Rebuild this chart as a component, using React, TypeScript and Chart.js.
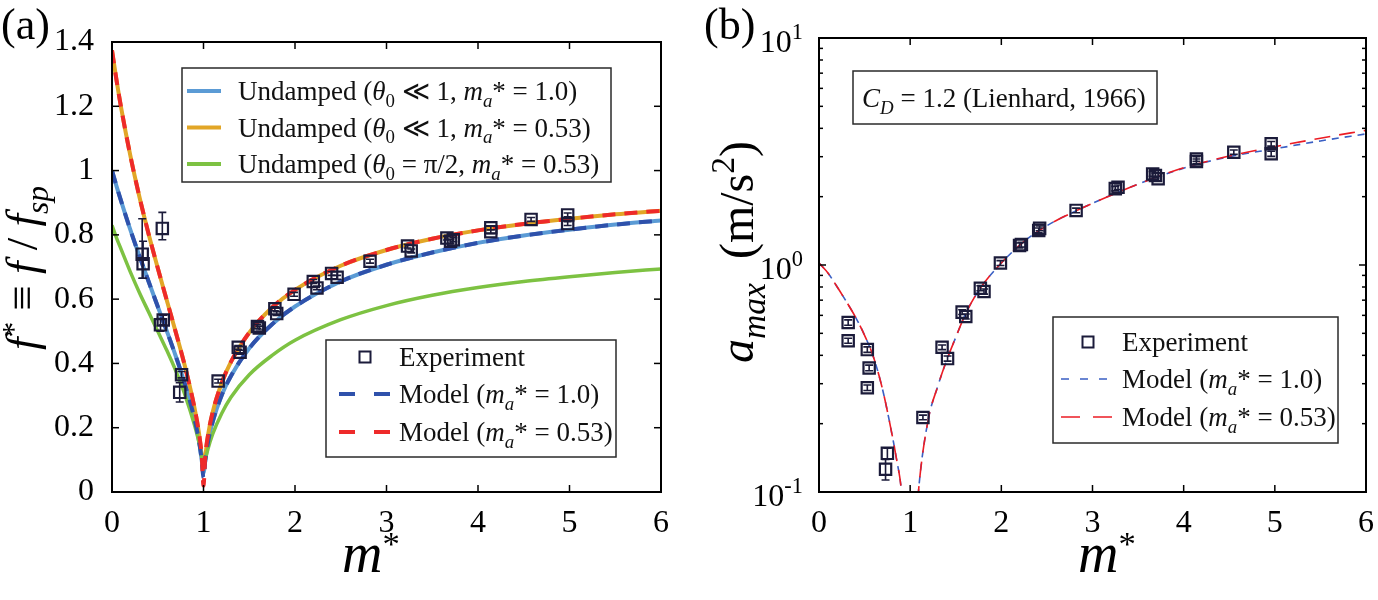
import React, { useEffect, useRef } from 'react';
import { Chart, registerables } from 'chart.js';

Chart.register(...registerables);

const SERIF = '"Liberation Serif", "DejaVu Serif", "Times New Roman", serif';
const INK = '#1b1b3a';
const CW = 689;
const CH = 600;

// ---------- panel (a): frequency ratio f* against mass ratio m* ----------
const CURVE_X = [0, 0.05, 0.1, 0.2, 0.3, 0.4, 0.5, 0.6, 0.7, 0.8, 0.9, 0.95, 0.98, 1.0, 1.02, 1.05, 1.1, 1.2, 1.3, 1.5, 1.75, 2, 2.5, 3, 3.5, 4, 4.5, 5, 5.5, 6];
const UNDAMPED_MA10 = [1.0, 0.951, 0.905, 0.816, 0.734, 0.655, 0.577, 0.5, 0.42, 0.333, 0.229, 0.16, 0.1, 0.06, 0.0995, 0.156, 0.218, 0.302, 0.361, 0.447, 0.522, 0.577, 0.655, 0.707, 0.745, 0.775, 0.798, 0.816, 0.832, 0.845];
const UNDAMPED_MA053 = [1.374, 1.28, 1.195, 1.047, 0.918, 0.803, 0.697, 0.595, 0.494, 0.388, 0.264, 0.184, 0.115, 0.09, 0.114, 0.178, 0.248, 0.34, 0.405, 0.496, 0.574, 0.629, 0.704, 0.753, 0.788, 0.814, 0.834, 0.85, 0.864, 0.875];
const UNDAMPED_LARGE = [0.83, 0.79, 0.755, 0.685, 0.62, 0.56, 0.5, 0.44, 0.375, 0.3, 0.21, 0.155, 0.11, 0.07, 0.1, 0.135, 0.18, 0.245, 0.295, 0.365, 0.425, 0.472, 0.536, 0.58, 0.612, 0.636, 0.655, 0.67, 0.683, 0.694];
const MODEL_MA10 = [1.0, 0.951, 0.905, 0.816, 0.734, 0.655, 0.577, 0.5, 0.42, 0.333, 0.229, 0.16, 0.1, 0.045, 0.0995, 0.156, 0.218, 0.302, 0.361, 0.447, 0.522, 0.577, 0.655, 0.707, 0.745, 0.775, 0.798, 0.816, 0.832, 0.845];
const MODEL_MA053 = [1.374, 1.28, 1.195, 1.047, 0.918, 0.803, 0.697, 0.595, 0.494, 0.388, 0.264, 0.184, 0.115, 0.02, 0.114, 0.178, 0.248, 0.34, 0.405, 0.496, 0.574, 0.629, 0.704, 0.753, 0.788, 0.814, 0.834, 0.85, 0.864, 0.875];

const EXP_A_X = [0.33, 0.34, 0.55, 0.53, 0.56, 0.76, 0.74, 1.16, 1.38, 1.4, 1.59, 1.61, 1.78, 1.8, 1.99, 2.2, 2.24, 2.4, 2.46, 2.82, 3.23, 3.27, 3.66, 3.7, 3.73, 4.14, 4.14, 4.58, 4.98, 4.98];
const EXP_A_Y = [0.74, 0.71, 0.82, 0.52, 0.535, 0.365, 0.31, 0.345, 0.45, 0.435, 0.515, 0.51, 0.57, 0.555, 0.615, 0.655, 0.635, 0.68, 0.668, 0.718, 0.765, 0.75, 0.79, 0.78, 0.785, 0.822, 0.81, 0.848, 0.862, 0.835];
const EXP_A_ERR_LO = [0.075, 0.045, 0.035, 0.02, 0.015, 0.01, 0.03, 0.006, 0.006, 0.006, 0.006, 0.006, 0.006, 0.006, 0.006, 0.006, 0.006, 0.006, 0.006, 0.006, 0.006, 0.006, 0.006, 0.006, 0.006, 0.006, 0.006, 0.006, 0.006, 0.006];
const EXP_A_ERR_HI = [0.11, 0.07, 0.05, 0.02, 0.015, 0.01, 0.03, 0.006, 0.006, 0.006, 0.006, 0.006, 0.006, 0.006, 0.006, 0.006, 0.006, 0.006, 0.006, 0.006, 0.006, 0.006, 0.006, 0.006, 0.006, 0.006, 0.006, 0.006, 0.006, 0.006];

const X_TICKS = [0, 1, 2, 3, 4, 5, 6];
const Y_TICKS_A = [0, 0.2, 0.4, 0.6, 0.8, 1, 1.2, 1.4];

// ---------- panel (b): peak acceleration against mass ratio ----------
const MODEL_B_X = [0, 0.1, 0.2, 0.3, 0.4, 0.5, 0.6, 0.7, 0.8, 0.85, 0.9, 0.95, 1.0, 1.05, 1.1, 1.2, 1.3, 1.4, 1.5, 1.6, 1.75, 2, 2.25, 2.5, 2.75, 3, 3.5, 4, 4.5, 5, 5.5, 6];
const MODEL_B_MA10 = [1.02, 0.92, 0.8, 0.69, 0.59, 0.49, 0.39, 0.28, 0.18, 0.14, 0.105, 0.06, 0.03, 0.06, 0.11, 0.21, 0.29, 0.38, 0.48, 0.6, 0.77, 1.02, 1.27, 1.49, 1.68, 1.87, 2.27, 2.67, 3.0, 3.25, 3.52, 3.78];
const MODEL_B_MA053 = [1.02, 0.92, 0.8, 0.69, 0.59, 0.49, 0.39, 0.28, 0.18, 0.14, 0.105, 0.06, 0.03, 0.06, 0.11, 0.21, 0.29, 0.38, 0.48, 0.6, 0.77, 1.02, 1.27, 1.49, 1.68, 1.87, 2.27, 2.68, 3.02, 3.32, 3.62, 3.92];

const EXP_B_X = [0.32, 0.32, 0.53, 0.55, 0.53, 0.75, 0.73, 1.14, 1.35, 1.41, 1.57, 1.61, 1.77, 1.81, 1.99, 2.2, 2.22, 2.41, 2.42, 2.82, 3.25, 3.28, 3.66, 3.69, 3.72, 4.14, 4.14, 4.55, 4.96, 4.96];
const EXP_B_Y = [0.558, 0.464, 0.424, 0.352, 0.288, 0.148, 0.126, 0.213, 0.434, 0.387, 0.62, 0.593, 0.79, 0.764, 1.02, 1.22, 1.23, 1.42, 1.45, 1.74, 2.17, 2.2, 2.52, 2.48, 2.4, 2.93, 2.86, 3.14, 3.42, 3.09];
const EXP_B_ERR = [0.015, 0.012, 0.012, 0.01, 0.008, 0.008, 0.013, 0.005, 0.01, 0.01, 0.015, 0.015, 0.02, 0.02, 0.025, 0.03, 0.03, 0.035, 0.035, 0.04, 0.05, 0.05, 0.06, 0.06, 0.06, 0.07, 0.07, 0.07, 0.08, 0.08];

const Y_MAJOR_B = [0.1, 1, 10];
const Y_EXP_B = ['-1', '0', '1'];
const Y_MINOR_B = [0.2, 0.3, 0.4, 0.5, 0.6, 0.7, 0.8, 0.9, 2, 3, 4, 5, 6, 7, 8, 9];

// colours
const C_BLUE = '#5b9bd5';
const C_ORANGE = '#e2a626';
const C_GREEN = '#7dc242';
const C_MODEL_BLUE = '#2f51ab';
const C_MODEL_RED = '#ee2a2a';
const C_B_BLUE = '#3a5fc4';
const C_B_RED = '#ec1c24';

// ---------- rich text helper ----------
type Seg = { t: string; it?: boolean; sub?: boolean; sup?: boolean; k?: number; dy?: number };

const segSize = (s: Seg, size: number) => size * (s.k ?? (s.sub || s.sup ? 0.7 : 1));
const fontFor = (s: Seg, size: number) => `${s.it ? 'italic ' : ''}${segSize(s, size).toFixed(1)}px ${SERIF}`;

function richWidth(ctx: CanvasRenderingContext2D, segs: Seg[], size: number) {
  let w = 0;
  for (const s of segs) {
    ctx.font = fontFor(s, size);
    w += ctx.measureText(s.t).width;
  }
  return w;
}

function drawRich(ctx: CanvasRenderingContext2D, segs: Seg[], x: number, y: number, size: number, align: 'left' | 'center' | 'right' = 'left') {
  const w = richWidth(ctx, segs, size);
  let cx = align === 'center' ? x - w / 2 : align === 'right' ? x - w : x;
  ctx.textAlign = 'left';
  ctx.textBaseline = 'alphabetic';
  for (const s of segs) {
    ctx.font = fontFor(s, size);
    const dy = s.dy !== undefined ? s.dy * size : s.sub ? size * 0.25 : s.sup ? -size * 0.4 : 0;
    ctx.fillText(s.t, cx, y + dy);
    cx += ctx.measureText(s.t).width;
  }
}

const maSegs = (val: string): Seg[] => [{ t: 'm', it: true }, { t: 'a', it: true, sub: true }, { t: `* = ${val})` }];

const LEGEND_A_TOP: { color: string; segs: Seg[] }[] = [
  { color: C_BLUE, segs: [{ t: 'Undamped (' }, { t: 'θ', it: true }, { t: '0', sub: true }, { t: ' ≪ 1, ' }, ...maSegs('1.0')] },
  { color: C_ORANGE, segs: [{ t: 'Undamped (' }, { t: 'θ', it: true }, { t: '0', sub: true }, { t: ' ≪ 1, ' }, ...maSegs('0.53')] },
  { color: C_GREEN, segs: [{ t: 'Undamped (' }, { t: 'θ', it: true }, { t: '0', sub: true }, { t: ' = π/2, ' }, ...maSegs('0.53')] },
];
const MODEL_10: Seg[] = [{ t: 'Model (' }, ...maSegs('1.0')];
const MODEL_053: Seg[] = [{ t: 'Model (' }, ...maSegs('0.53')];
const Y_LABEL_A: Seg[] = [{ t: 'f', it: true }, { t: '*', k: 0.7, dy: -0.3 }, { t: ' ≡ ' }, { t: 'f', it: true }, { t: ' / ' }, { t: 'f', it: true }, { t: 'sp', it: true, sub: true }];
const Y_LABEL_B: Seg[] = [{ t: 'a', it: true }, { t: 'max', it: true, sub: true }, { t: '  (m/s' }, { t: '2', sup: true }, { t: ')' }];
const X_LABEL: Seg[] = [{ t: 'm', it: true }, { t: '*', k: 0.62, dy: -0.3 }];
const NOTE_B: Seg[] = [{ t: 'C', it: true }, { t: 'D', it: true, sub: true }, { t: ' = 1.2 (Lienhard, 1966)' }];

// ---------- drawing helpers ----------
function seg(ctx: CanvasRenderingContext2D, x1: number, y1: number, x2: number, y2: number) {
  ctx.beginPath();
  ctx.moveTo(x1, y1);
  ctx.lineTo(x2, y2);
  ctx.stroke();
}

function box(ctx: CanvasRenderingContext2D, x: number, y: number, w: number, h: number) {
  ctx.fillStyle = '#ffffff';
  ctx.fillRect(x, y, w, h);
  ctx.strokeStyle = '#2a2a2a';
  ctx.lineWidth = 1.5;
  ctx.strokeRect(x, y, w, h);
}

function sampleLine(ctx: CanvasRenderingContext2D, x1: number, x2: number, y: number, color: string, width: number, dash: number[]) {
  ctx.save();
  ctx.strokeStyle = color;
  ctx.lineWidth = width;
  ctx.setLineDash(dash);
  seg(ctx, x1, y, x2, y);
  ctx.restore();
}

function sampleSquare(ctx: CanvasRenderingContext2D, cx: number, cy: number) {
  ctx.save();
  ctx.strokeStyle = INK;
  ctx.lineWidth = 2;
  ctx.strokeRect(cx - 5.5, cy - 5.5, 11, 11);
  ctx.restore();
}

function frame(chart: any) {
  const { ctx, chartArea: a } = chart;
  ctx.strokeStyle = '#000';
  ctx.lineWidth = 2;
  ctx.setLineDash([]);
  ctx.strokeRect(a.left, a.top, a.right - a.left, a.bottom - a.top);
  ctx.lineWidth = 1.5;
  for (const v of X_TICKS) {
    const px = chart.scales.x.getPixelForValue(v);
    seg(ctx, px, a.bottom, px, a.bottom - 7);
    seg(ctx, px, a.top, px, a.top + 7);
  }
}

function errorBars(chart: any, xs: number[], ys: number[], lo: number[], hi: number[]) {
  const { ctx, scales } = chart;
  ctx.save();
  ctx.strokeStyle = INK;
  ctx.lineWidth = 1.6;
  xs.forEach((xv, i) => {
    const px = scales.x.getPixelForValue(xv);
    const p1 = scales.y.getPixelForValue(ys[i] - lo[i]);
    const p2 = scales.y.getPixelForValue(ys[i] + hi[i]);
    ctx.beginPath();
    ctx.moveTo(px, p1);
    ctx.lineTo(px, p2);
    ctx.moveTo(px - 4, p1);
    ctx.lineTo(px + 4, p1);
    ctx.moveTo(px - 4, p2);
    ctx.lineTo(px + 4, p2);
    ctx.stroke();
  });
  ctx.restore();
}

const pts = (xs: number[], ys: number[]) => xs.map((x, i) => ({ x, y: ys[i] }));

const squareStyle = {
  showLine: false,
  pointStyle: 'rect',
  pointRadius: 8,
  pointBorderWidth: 2.2,
  borderColor: INK,
  pointBorderColor: INK,
  backgroundColor: 'rgba(0,0,0,0)',
  pointBackgroundColor: 'rgba(0,0,0,0)',
};

const curveStyle = (color: string, width: number, dash: number[]) => ({
  borderColor: color,
  borderWidth: width,
  borderDash: dash,
  pointRadius: 0,
  fill: false,
  cubicInterpolationMode: 'monotone',
});

const tickFont = { family: SERIF, size: 32 };

// ---------- panel (a) ----------
const AREA_A = { left: 112, right: 661, top: 42, bottom: 492 };

const decorA = {
  id: 'decorA',
  afterDatasetsDraw(chart: any) {
    errorBars(chart, EXP_A_X, EXP_A_Y, EXP_A_ERR_LO, EXP_A_ERR_HI);
  },
  afterDraw(chart: any) {
    const { ctx, chartArea: a, scales } = chart;
    ctx.save();
    frame(chart);
    for (const v of Y_TICKS_A) {
      const py = scales.y.getPixelForValue(v);
      seg(ctx, a.left, py, a.left + 7, py);
      seg(ctx, a.right, py, a.right - 7, py);
    }

    // upper legend: undamped curves
    box(ctx, 182, 68, 429, 114);
    LEGEND_A_TOP.forEach((row, i) => {
      const ry = 91 + i * 36.5;
      sampleLine(ctx, 187, 221, ry, row.color, 4, []);
      ctx.fillStyle = '#111';
      drawRich(ctx, row.segs, 238, ry + 9, 27);
    });

    // lower legend: experiment and model
    box(ctx, 326, 340, 290, 117);
    sampleSquare(ctx, 365, 357);
    ctx.fillStyle = '#111';
    drawRich(ctx, [{ t: 'Experiment' }], 399, 366, 27);
    sampleLine(ctx, 339, 390, 394, C_MODEL_BLUE, 4, [16, 19]);
    ctx.fillStyle = '#111';
    drawRich(ctx, MODEL_10, 399, 403, 27);
    sampleLine(ctx, 339, 390, 432, C_MODEL_RED, 4, [16, 19]);
    ctx.fillStyle = '#111';
    drawRich(ctx, MODEL_053, 399, 441, 27);

    // axis titles and panel letter
    ctx.fillStyle = '#000';
    drawRich(ctx, X_LABEL, 342, 572, 56);
    ctx.save();
    ctx.translate(37, 268);
    ctx.rotate(-Math.PI / 2);
    drawRich(ctx, Y_LABEL_A, 0, 0, 45, 'center');
    ctx.restore();
    drawRich(ctx, [{ t: '(a)' }], 1, 39, 44);
    ctx.restore();
  },
};

// ---------- panel (b) ----------
const AREA_B = { left: 130, right: 678, top: 38, bottom: 492 };

const decorB = {
  id: 'decorB',
  afterDatasetsDraw(chart: any) {
    errorBars(chart, EXP_B_X, EXP_B_Y, EXP_B_ERR, EXP_B_ERR);
  },
  afterDraw(chart: any) {
    const { ctx, chartArea: a, scales } = chart;
    ctx.save();
    frame(chart);
    for (const v of Y_MAJOR_B) {
      const py = scales.y.getPixelForValue(v);
      seg(ctx, a.left, py, a.left + 7, py);
      seg(ctx, a.right, py, a.right - 7, py);
    }
    for (const v of Y_MINOR_B) {
      const py = scales.y.getPixelForValue(v);
      seg(ctx, a.left, py, a.left + 4, py);
      seg(ctx, a.right, py, a.right - 4, py);
    }
    // decade labels
    ctx.fillStyle = '#000';
    Y_MAJOR_B.forEach((v, i) => {
      const py = scales.y.getPixelForValue(v);
      drawRich(ctx, [{ t: '10' }, { t: Y_EXP_B[i], sup: true }], a.left - 16, py + 14, 32, 'right');
    });

    // drag coefficient note
    box(ctx, 164, 71, 304, 53);
    ctx.fillStyle = '#111';
    drawRich(ctx, NOTE_B, 173, 107, 27);

    // legend
    box(ctx, 364, 317, 285, 126);
    sampleSquare(ctx, 399, 342);
    ctx.fillStyle = '#111';
    drawRich(ctx, [{ t: 'Experiment' }], 433, 351, 27);
    sampleLine(ctx, 372, 423, 379, C_B_BLUE, 1.6, [8, 11]);
    ctx.fillStyle = '#111';
    drawRich(ctx, MODEL_10, 433, 388, 27);
    sampleLine(ctx, 372, 423, 417, C_B_RED, 1.6, [19, 13]);
    ctx.fillStyle = '#111';
    drawRich(ctx, MODEL_053, 433, 426, 27);

    // axis titles and panel letter
    ctx.fillStyle = '#000';
    drawRich(ctx, X_LABEL, 389, 572, 56);
    ctx.save();
    ctx.translate(64, 252);
    ctx.rotate(-Math.PI / 2);
    drawRich(ctx, Y_LABEL_B, 0, 0, 48, 'center');
    ctx.restore();
    drawRich(ctx, [{ t: '(b)' }], 15, 39, 44);
    ctx.restore();
  },
};

function makeA(canvas: HTMLCanvasElement) {
  return new Chart(canvas, {
    type: 'line',
    data: {
      datasets: [
        { label: 'Experiment', data: pts(EXP_A_X, EXP_A_Y), order: 0, ...squareStyle } as any,
        { label: 'Model (ma* = 0.53)', data: pts(CURVE_X, MODEL_MA053), order: 1, ...curveStyle(C_MODEL_RED, 4, [13, 9]) },
        { label: 'Model (ma* = 1.0)', data: pts(CURVE_X, MODEL_MA10), order: 2, ...curveStyle(C_MODEL_BLUE, 4, [13, 9]) },
        { label: 'Undamped (θ0 = π/2, ma* = 0.53)', data: pts(CURVE_X, UNDAMPED_LARGE), order: 3, ...curveStyle(C_GREEN, 3.5, []) },
        { label: 'Undamped (θ0 ≪ 1, ma* = 0.53)', data: pts(CURVE_X, UNDAMPED_MA053), order: 4, ...curveStyle(C_ORANGE, 4, []) },
        { label: 'Undamped (θ0 ≪ 1, ma* = 1.0)', data: pts(CURVE_X, UNDAMPED_MA10), order: 5, ...curveStyle(C_BLUE, 4, []) },
      ] as any,
    },
    options: {
      responsive: false,
      animation: false,
      events: [],
      layout: { padding: { left: 0, top: AREA_A.top, right: CW - AREA_A.right, bottom: 0 } },
      plugins: { legend: { display: false }, tooltip: { enabled: false } },
      scales: {
        x: {
          type: 'linear', min: 0, max: 6,
          grid: { display: false }, border: { display: false },
          ticks: { stepSize: 1, autoSkip: false, maxRotation: 0, padding: 4, color: '#000', font: tickFont },
          afterFit: (s: any) => { s.height = CH - AREA_A.bottom; },
        },
        y: {
          type: 'linear', min: 0, max: 1.4,
          grid: { display: false }, border: { display: false },
          ticks: {
            stepSize: 0.2, autoSkip: false, padding: 10, color: '#000', font: tickFont,
            callback: (v: any) => String(Math.round(Number(v) * 10) / 10),
          },
          afterFit: (s: any) => { s.width = AREA_A.left; },
        },
      },
    } as any,
    plugins: [decorA],
  });
}

function makeB(canvas: HTMLCanvasElement) {
  return new Chart(canvas, {
    type: 'line',
    data: {
      datasets: [
        { label: 'Experiment', data: pts(EXP_B_X, EXP_B_Y), order: 0, ...squareStyle } as any,
        { label: 'Model (ma* = 0.53)', data: pts(MODEL_B_X, MODEL_B_MA053), order: 1, ...curveStyle(C_B_RED, 1.6, [16, 9]) },
        { label: 'Model (ma* = 1.0)', data: pts(MODEL_B_X, MODEL_B_MA10), order: 2, ...curveStyle(C_B_BLUE, 1.6, [7, 6]) },
      ] as any,
    },
    options: {
      responsive: false,
      animation: false,
      events: [],
      layout: { padding: { left: 0, top: AREA_B.top, right: CW - AREA_B.right, bottom: 0 } },
      plugins: { legend: { display: false }, tooltip: { enabled: false } },
      scales: {
        x: {
          type: 'linear', min: 0, max: 6,
          grid: { display: false }, border: { display: false },
          ticks: { stepSize: 1, autoSkip: false, maxRotation: 0, padding: 4, color: '#000', font: tickFont },
          afterFit: (s: any) => { s.height = CH - AREA_B.bottom; },
        },
        y: {
          type: 'logarithmic', min: 0.1, max: 10,
          grid: { display: false }, border: { display: false },
          ticks: { display: false },
          afterFit: (s: any) => { s.width = AREA_B.left; },
        },
      },
    } as any,
    plugins: [decorB],
  });
}

export default function App() {
  const refA = useRef<HTMLCanvasElement>(null);
  const refB = useRef<HTMLCanvasElement>(null);

  useEffect(() => {
    const a = makeA(refA.current!);
    const b = makeB(refB.current!);
    return () => {
      a.destroy();
      b.destroy();
    };
  }, []);

  const canvasStyle = (left: number): React.CSSProperties => ({
    position: 'absolute', left, top: 0, width: CW, height: CH, display: 'block',
  });

  return (
    <div style={{ position: 'absolute', left: 0, top: 0, width: 1378, height: 600, background: '#fff', overflow: 'hidden' }}>
      <canvas ref={refA} width={CW} height={CH} style={canvasStyle(0)} />
      <canvas ref={refB} width={CW} height={CH} style={canvasStyle(CW)} />
    </div>
  );
}
